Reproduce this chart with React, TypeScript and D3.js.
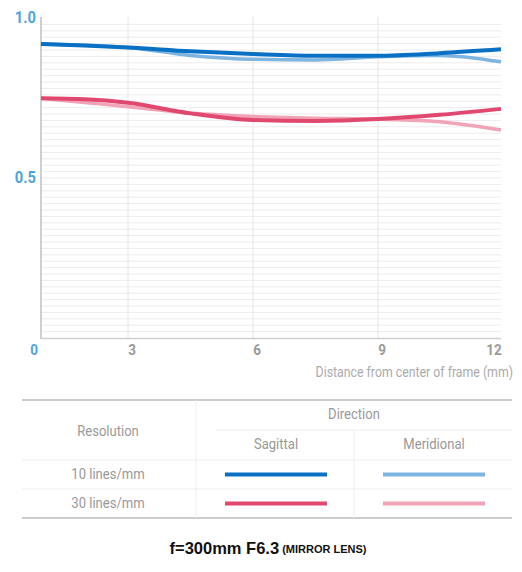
import React from 'react';
import * as d3 from 'd3';

// distance from centre of frame (mm)
const distances = [0, 1.5, 3, 4.5, 6, 7.5, 9, 10.5, 12];

// MTF values
const sagittal10 = [0.919, 0.914, 0.908, 0.896, 0.8875, 0.882, 0.882, 0.89, 0.902];
const meridional10 = [0.919, 0.915, 0.908, 0.883, 0.871, 0.869, 0.879, 0.883, 0.863];
const sagittal30 = [0.749, 0.746, 0.735, 0.702, 0.681, 0.678, 0.684, 0.6975, 0.716];
const meridional30 = [0.749, 0.736, 0.723, 0.703, 0.692, 0.687, 0.684, 0.676, 0.65];

const xTicks = [0, 3, 6, 9, 12];
const yLabels = [0.5, 1.0];
const resolutions = ['10 lines/mm', '30 lines/mm'];
const directions = ['Sagittal', 'Meridional'];

interface Series {
  name: string;
  values: number[];
  color: string;
  width: number;
}

const series: Series[] = [
  { name: '10 meridional', values: meridional10, color: '#7db5e0', width: 3.5 },
  { name: '30 meridional', values: meridional30, color: '#f1a3b7', width: 3.5 },
  { name: '10 sagittal', values: sagittal10, color: '#0a70c4', width: 4 },
  { name: '30 sagittal', values: sagittal30, color: '#e1486f', width: 4 },
];

const font = 'Roboto, "Liberation Sans", sans-serif';

// the original uses a condensed face, so squeeze the text horizontally
const NarrowText: React.FC<{ x: number; y: number; anchor?: string; size?: number; fill?: string; weight?: string; sx?: number; children: React.ReactNode }> =
  ({ x, y, anchor = 'middle', size = 14.5, fill = '#999', weight = 'normal', sx = 0.9, children }) => (
    <text transform={`translate(${x},${y}) scale(${sx},1)`} textAnchor={anchor} dominantBaseline="middle"
      fontFamily={font} fontSize={size} fontWeight={weight} fill={fill}>{children}</text>
  );

const App: React.FC = () => {
  const width = 522;
  const height = 572;

  // the grid is not evenly spaced in the original, so a polylinear scale
  const x = d3.scaleLinear().domain([0, 3, 6, 9, 12]).range([41, 128, 253, 378, 501]);
  const y = d3.scaleLinear().domain([0, 1]).range([338, 18]);

  const line = d3.line<number>()
    .x((_, i) => x(distances[i]))
    .y(d => y(d))
    .curve(d3.curveMonotoneX);

  const gridValues = d3.range(1, 50).map(i => i * 0.02);

  // table layout
  const tLeft = 22;
  const tRight = 512;
  const tTop = 400;
  const tBottom = 518;
  const colDiv = 196;
  const dirDiv = 354;
  const headLine = 430;
  const rowLines = [460, 489];
  const rowCenters = [475, 504];
  const swatch = [[225, 327], [383, 485]];
  const legendColors = [
    ['#0a70c4', '#7db5e0'],
    ['#e1486f', '#f1a3b7'],
  ];

  return (
    <div style={{ position: 'absolute', left: 0, top: 0 }}>
      <svg width={width} height={height} style={{ display: 'block', background: '#fff' }}>
        {/* horizontal grid */}
        {gridValues.map(v => (
          <line key={v} x1={x(0)} x2={x(12)} y1={y(v)} y2={y(v)} stroke="#ececec" strokeWidth={1} />
        ))}
        {/* vertical grid */}
        {xTicks.slice(1, 4).map(t => (
          <line key={t} x1={x(t)} x2={x(t)} y1={17} y2={338} stroke="#e6e6e6" strokeWidth={1} />
        ))}
        {/* axes */}
        <line x1={x(0)} x2={x(0)} y1={17} y2={339} stroke="#cfcfcf" strokeWidth={2} />
        <line x1={x(0)} x2={x(12)} y1={338.5} y2={338.5} stroke="#cfcfcf" strokeWidth={1.5} />

        {series.map(s => (
          <path key={s.name} d={line(s.values) ?? ''} fill="none" stroke={s.color} strokeWidth={s.width} strokeLinecap="butt" />
        ))}

        {/* y labels */}
        {yLabels.map(v => (
          <NarrowText key={v} x={36} y={y(v) + 1} anchor="end" size={16} weight="bold" fill="#4ea5dc" sx={0.92}>{v.toFixed(1)}</NarrowText>
        ))}
        {/* x labels */}
        {xTicks.map(t => (
          <NarrowText key={t} x={t === 0 ? 34 : t === 12 ? 494 : x(t) + 4} y={351} size={15} weight="bold"
            fill={t === 0 ? '#4ea5dc' : '#9a9a9a'}>{t}</NarrowText>
        ))}
        <NarrowText x={513} y={373} anchor="end" size={14} fill="#ababab" sx={0.88}>
          Distance from center of frame (mm)
        </NarrowText>

        {/* table */}
        <line x1={tLeft} x2={tRight} y1={tTop} y2={tTop} stroke="#cccccc" strokeWidth={2} />
        <line x1={tLeft} x2={tRight} y1={tBottom} y2={tBottom} stroke="#cccccc" strokeWidth={2} />
        <line x1={colDiv} x2={colDiv} y1={tTop} y2={tBottom} stroke="#eeeeee" strokeWidth={1} />
        <line x1={216} x2={tRight} y1={headLine} y2={headLine} stroke="#eeeeee" strokeWidth={1} />
        <line x1={dirDiv} x2={dirDiv} y1={headLine} y2={tBottom} stroke="#eeeeee" strokeWidth={1} />
        {rowLines.map(r => (
          <line key={r} x1={tLeft} x2={tRight} y1={r} y2={r} stroke="#eeeeee" strokeWidth={1} />
        ))}
        <NarrowText x={354} y={415}>Direction</NarrowText>
        <NarrowText x={108} y={432}>Resolution</NarrowText>
        {directions.map((d, i) => (
          <NarrowText key={d} x={i === 0 ? 276 : 434} y={445}>{d}</NarrowText>
        ))}
        {resolutions.map((r, i) => (
          <g key={r}>
            <NarrowText x={108} y={rowCenters[i]}>{r}</NarrowText>
            {swatch.map((sw, j) => (
              <line key={j} x1={sw[0]} x2={sw[1]} y1={rowCenters[i] - 0.5} y2={rowCenters[i] - 0.5} stroke={legendColors[i][j]} strokeWidth={4} />
            ))}
          </g>
        ))}

        {/* title */}
        <text x={268} y={550} textAnchor="middle" dominantBaseline="middle" fontFamily='"Liberation Sans", Arial, sans-serif' fontWeight="bold" fill="#111">
          <tspan fontSize={16.5}>f=300mm F6.3</tspan>
          <tspan fontSize={11} dx={3}>(MIRROR LENS)</tspan>
        </text>
      </svg>
    </div>
  );
};

export default App;
